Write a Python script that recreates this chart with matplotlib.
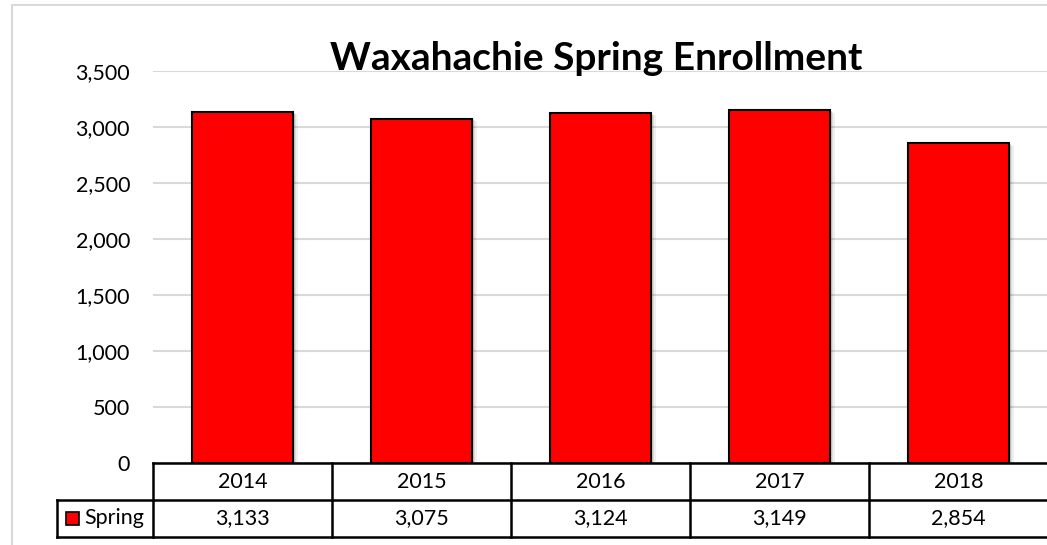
import matplotlib
matplotlib.use("Agg")
import matplotlib.pyplot as plt
from matplotlib.patches import Rectangle
import matplotlib.transforms as mtransforms

years = ["2014", "2015", "2016", "2017", "2018"]
spring = [3133, 3075, 3124, 3149, 2854]
yticks = [0, 500, 1000, 1500, 2000, 2500, 3000, 3500]
series_name = "Spring"
title = "Waxahachie Spring Enrollment"

plt.rcParams['font.family'] = ['Lato', 'DejaVu Sans']

W, H = 1047, 545
fig = plt.figure(figsize=(W / 100, H / 100), dpi=100)

def fx(px):
    return px / W

def fy(py):
    return 1 - py / H

# outer chart border (light gray)
fig.patches.append(Rectangle((fx(12), fy(560)), fx(1100) - fx(12), fy(5) - fy(560),
                             transform=fig.transFigure, fill=False,
                             edgecolor='#d9d9d9', linewidth=1.5))

left, right, top, bottom = 153, 1048, 71, 463
ax = fig.add_axes([fx(left), fy(bottom), fx(right) - fx(left), fy(top) - fy(bottom)])
n = len(years)
ax.set_xlim(-0.5, n - 0.5)
ax.set_ylim(0, 3500)
for s in ax.spines.values():
    s.set_visible(False)
FS = 15.5
ax.set_yticks(yticks)
ax.set_yticklabels([f"{v:,}" for v in yticks], fontsize=FS)
ax.tick_params(axis='y', length=0, pad=16.5)
ax.set_xticks([])
ax.yaxis.grid(True, color='#d9d9d9', linewidth=1.5)
ax.set_axisbelow(True)

bw = 0.56
x = list(range(n))
# shadows
for dx, dy, a in [(0.012, -8, 0.10), (0.020, -14, 0.08), (0.028, -20, 0.06)]:
    ax.bar([xi + dx for xi in x], [v + dy for v in spring], width=bw,
           color='black', alpha=a, linewidth=0, zorder=2)
ax.bar(x, spring, width=bw, color='#ff0000', edgecolor='black', linewidth=1.5, zorder=3)

fig.text(fx(596), fy(70), title, fontsize=28, fontweight='bold', ha='center', va='baseline')

# data table
axh = bottom - top
rh = 37 / axh
trans = mtransforms.blended_transform_factory(ax.transData, ax.transAxes)
lw = 1.8
kw = dict(color='black', linewidth=lw, clip_on=False, solid_capstyle='projecting')
x0, x1 = -0.5, n - 0.5
cw_px = (right - left) / n
def px2data(px):
    return x0 + (px - left) / cw_px
leg_left = px2data(57)
ax.plot([x0, x1], [0, 0], transform=trans, **kw)
ax.plot([leg_left, x1], [-rh, -rh], transform=trans, **kw)
ax.plot([leg_left, x1], [-2 * rh, -2 * rh], transform=trans, **kw)
for i in range(n + 1):
    xv = x0 + i
    ax.plot([xv, xv], [0, -2 * rh], transform=trans, **kw)
ax.plot([leg_left, leg_left], [-rh, -2 * rh], transform=trans, **kw)

for i in range(n):
    ax.text(i, -rh / 2, years[i], transform=trans, ha='center', va='center', fontsize=FS)
    ax.text(i, -1.5 * rh, f"{spring[i]:,}", transform=trans, ha='center', va='center', fontsize=FS)

ax.add_patch(Rectangle((px2data(66), -1.5 * rh - 6.5 / axh), px2data(79) - px2data(66), 13 / axh,
                       transform=trans, facecolor='#ff0000', edgecolor='black',
                       linewidth=1.2, clip_on=False))
ax.text(px2data(84), -1.5 * rh, series_name, transform=trans, ha='left', va='center', fontsize=FS)

fig.savefig("out.png", dpi=100)
